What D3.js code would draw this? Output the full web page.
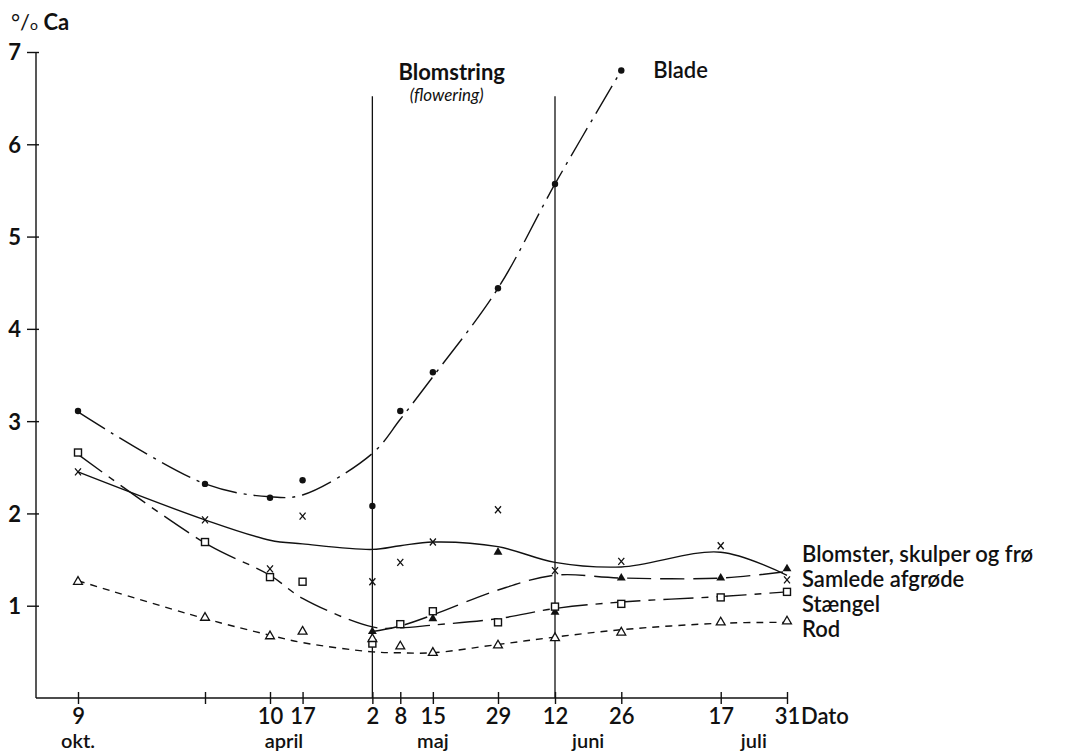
<!DOCTYPE html>
<html>
<head>
<meta charset="utf-8">
<script src="https://cdn.jsdelivr.net/npm/d3@7"></script>
<style>
    body { margin: 0; background: #fff; }
    text { font-family: Lato, "Open Sans", sans-serif; fill: #111; }
    .axis path, .axis line { stroke: #111; stroke-width: 1.4; }
    .axis text { font-size: 22px; }
</style>
</head>
<body>
<div id="chart"></div>
<script>

// sampling dates (9 okt. the year before, then spring/summer)
const dates = ["1957-10-09", "1958-03-27", "1958-04-10", "1958-04-17", "1958-05-02", "1958-05-08",
    "1958-05-15", "1958-05-29", "1958-06-12", "1958-06-26", "1958-07-17", "1958-07-31"];
const tickLabels = ["9", "", "10", "17", "2", "8", "15", "29", "12", "26", "17", "31"];
const months = [["okt.", "1957-10-09"], ["april", "1958-04-13"], ["maj", "1958-05-15"],
    ["juni", "1958-06-19"], ["juli", "1958-07-24"]];
const flowering = ["1958-05-02", "1958-06-12"];

// % Ca, measured points (null = no sample)
const blade     = [3.11, 2.32, 2.17, 2.36, 2.08, 3.11, 3.53, 4.44, 5.57, 6.80, null, null];
const samlede   = [2.45, 1.93, 1.40, 1.97, 1.26, 1.47, 1.69, 2.04, 1.38, 1.48, 1.65, 1.28];
const blomster  = [null, null, null, null, 0.72, 0.79, 0.86, 1.58, 0.93, 1.30, 1.30, 1.40];
const staengel  = [2.66, 1.69, 1.31, 1.26, 0.59, 0.80, 0.94, 0.82, 0.99, 1.02, 1.09, 1.15];
const rod       = [1.26, 0.87, 0.67, 0.72, 0.64, 0.56, 0.49, 0.57, 0.65, 0.71, 0.82, 0.83];

// hand drawn trend curves at the same dates
const bladeFit    = [3.10, 2.32, 2.18, 2.20, 2.65, 3.02, 3.48, 4.44, 5.57, 6.80, null, null];
const samledeFit  = [2.45, 1.93, 1.71, 1.67, 1.61, 1.65, 1.69, 1.64, 1.47, 1.42, 1.58, 1.33];
const blomsterFit = [null, null, null, null, 0.72, 0.78, 0.90, 1.17, 1.33, 1.30, 1.30, 1.37];
const staengelFit = [2.64, 1.68, 1.33, 1.08, 0.77, 0.76, 0.79, 0.86, 0.97, 1.04, 1.10, 1.15];
const rodFit      = [1.27, 0.86, 0.68, 0.60, 0.50, 0.49, 0.49, 0.58, 0.66, 0.74, 0.81, 0.82];

const labels = ["Blomster, skulper og frø", "Samlede afgrøde", "Stængel", "Rod"];


class caChart {

    constructor(_parentElement) {
        this.parentElement = _parentElement;
        this.parse = d3.timeParse("%Y-%m-%d");
        this.initVis();
    }

    initVis() {
        let vis = this;

        vis.margin = { top: 52, right: 291, bottom: 56, left: 36 };
        vis.width = 1078 - vis.margin.left - vis.margin.right;
        vis.height = 754 - vis.margin.top - vis.margin.bottom;

        vis.svg = d3.select("#" + vis.parentElement).append("svg")
            .attr("width", 1078)
            .attr("height", 754)
            .append("g")
            .attr("transform", "translate(" + vis.margin.left + "," + vis.margin.top + ")");

        // broken time axis: winter is squeezed, spring/summer roughly to scale
        vis.x = d3.scaleTime()
            .domain(["1957-10-09", "1958-03-27", "1958-04-10", "1958-05-29", "1958-06-12", "1958-07-31"].map(vis.parse))
            .range([42, 169, 234, 462, 519, 751]);

        vis.y = d3.scaleLinear()
            .domain([0, 7])
            .range([vis.height, 0]);

        vis.dates = dates.map(vis.parse);

        // axes
        let yAxis = d3.axisLeft(vis.y)
            .tickValues([1, 2, 3, 4, 5, 6, 7])
            .tickSize(9)
            .tickPadding(6)
            .tickFormat(d3.format("d"));

        let gy = vis.svg.append("g").attr("class", "axis").call(yAxis);
        gy.select(".domain").remove();
        gy.selectAll(".tick line").attr("x1", 3);
        gy.selectAll(".tick text").style("font-weight", "700").attr("dy", "0.36em");
        gy.append("line")
            .attr("y1", vis.y(0)).attr("y2", vis.y(7))
            .attr("stroke", "#111").attr("stroke-width", 1.6);

        let xAxis = d3.axisBottom(vis.x)
            .tickValues(vis.dates)
            .tickSize(6)
            .tickPadding(4)
            .tickFormat((d, i) => tickLabels[i]);

        let gx = vis.svg.append("g")
            .attr("class", "axis")
            .attr("transform", "translate(0," + vis.height + ")")
            .call(xAxis);
        gx.select(".domain").remove();
        gx.selectAll(".tick line").attr("y1", -6);
        gx.selectAll(".tick text").style("font-weight", "600");
        gx.append("line")
            .attr("x1", 0).attr("x2", vis.x(vis.dates[vis.dates.length - 1]))
            .attr("stroke", "#111").attr("stroke-width", 1.6);
        gx.append("text")
            .attr("x", vis.x(vis.dates[vis.dates.length - 1]) + 14)
            .attr("y", 10)
            .attr("dy", "0.71em")
            .style("text-anchor", "start")
            .style("font-weight", "600")
            .text("Dato");

        vis.svg.selectAll(".month")
            .data(months)
            .enter().append("text")
            .attr("class", "month")
            .attr("x", d => vis.x(vis.parse(d[1])))
            .attr("y", vis.height + 50)
            .style("text-anchor", "middle")
            .style("font-size", "20px")
            .style("font-weight", "600")
            .text(d => d[0]);

        // axis title
        let title = vis.svg.append("text")
            .attr("x", -25)
            .attr("y", -22)
            .style("font-size", "22px");
        title.append("tspan").text("°/");
        title.append("tspan").style("font-size", "14px").text("o");
        title.append("tspan").style("font-weight", "700").text(" Ca");

        // flowering period
        vis.svg.selectAll(".flower-line")
            .data(flowering)
            .enter().append("line")
            .attr("class", "flower-line")
            .attr("x1", d => vis.x(vis.parse(d)))
            .attr("x2", d => vis.x(vis.parse(d)))
            .attr("y1", vis.y(6.52))
            .attr("y2", vis.y(0))
            .attr("stroke", "#111")
            .attr("stroke-width", 1.3);

        let mid = (vis.x(vis.parse(flowering[0])) + vis.x(vis.parse(flowering[1]))) / 2;
        vis.svg.append("text")
            .attr("x", mid - 12).attr("y", 28)
            .style("text-anchor", "middle")
            .style("font-size", "22px")
            .style("font-weight", "700")
            .text("Blomstring");
        vis.svg.append("text")
            .attr("x", mid - 17).attr("y", 49)
            .style("text-anchor", "middle")
            .style("font-size", "17px")
            .style("font-style", "italic")
            .text("(flowering)");

        vis.series = [
            { fit: bladeFit, pts: blade, dash: "32,7,3,7", marker: "circle" },
            { fit: samledeFit, pts: samlede, dash: null, marker: "cross" },
            { fit: blomsterFit, pts: blomster, dash: "24,9", marker: "triangleFilled" },
            { fit: staengelFit, pts: staengel, dash: "30,8,7,8", marker: "square" },
            { fit: rodFit, pts: rod, dash: "7,6", marker: "triangle" }
        ];

        vis.updateVis();
    }

    updateVis() {
        let vis = this;

        let line = d3.line()
            .defined(d => d.v !== null)
            .x(d => vis.x(d.date))
            .y(d => vis.y(d.v))
            .curve(d3.curveCatmullRom.alpha(0.5));

        vis.series.forEach(function (s) {
            let fitData = s.fit.map((v, i) => ({ date: vis.dates[i], v: v }));
            vis.svg.append("path")
                .datum(fitData)
                .attr("fill", "none")
                .attr("stroke", "#111")
                .attr("stroke-width", 1.4)
                .attr("stroke-dasharray", s.dash)
                .attr("d", line);

            let ptData = s.pts.map((v, i) => ({ date: vis.dates[i], v: v })).filter(d => d.v !== null);
            let g = vis.svg.selectAll(".pt-" + s.marker)
                .data(ptData)
                .enter().append("g")
                .attr("class", "pt-" + s.marker)
                .attr("transform", d => "translate(" + vis.x(d.date) + "," + vis.y(d.v) + ")");

            if (s.marker === "circle") {
                g.append("circle").attr("r", 3.2).attr("fill", "#111");
            } else if (s.marker === "cross") {
                g.append("path").attr("d", "M-3,-3.5L3,3.5M-3,3.5L3,-3.5")
                    .attr("stroke", "#111").attr("stroke-width", 1.3);
            } else if (s.marker === "triangleFilled") {
                g.append("path").attr("d", d3.symbol(d3.symbolTriangle, 34)())
                    .attr("fill", "#111");
            } else if (s.marker === "square") {
                g.append("rect").attr("x", -3.5).attr("y", -3.5).attr("width", 7).attr("height", 7)
                    .attr("fill", "#fff").attr("stroke", "#111").attr("stroke-width", 1.4);
            } else {
                g.append("path").attr("d", d3.symbol(d3.symbolTriangle, 34)())
                    .attr("fill", "#fff").attr("stroke", "#111").attr("stroke-width", 1.3);
            }
        });

        // labels
        let last = vis.dates[9];
        vis.svg.append("text")
            .attr("x", vis.x(last) + 32)
            .attr("y", vis.y(6.8) + 8)
            .style("font-size", "22px")
            .style("font-weight", "600")
            .text("Blade");

        vis.svg.selectAll(".series-label")
            .data(labels)
            .enter().append("text")
            .attr("class", "series-label")
            .attr("x", vis.width + 15)
            .attr("y", (d, i) => vis.y(1.47) + i * 25)
            .style("font-size", "22px")
            .style("font-weight", "600")
            .text(d => d);
    }
}

new caChart("chart");

</script>
</body>
</html>
